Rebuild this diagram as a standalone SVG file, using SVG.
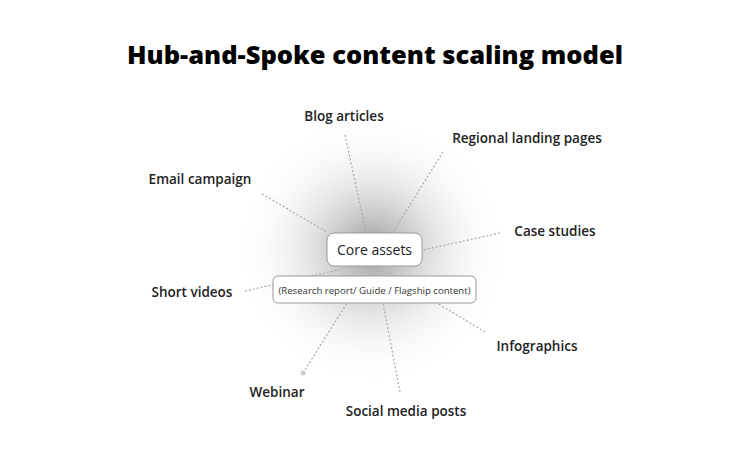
<svg xmlns="http://www.w3.org/2000/svg" width="750" height="469" viewBox="0 0 750 469">
<style>
.t{font-family:"Open Sans","Liberation Sans",sans-serif;font-weight:600;font-size:13.5px;fill:#222}
.c{stroke:#aaa;stroke-width:1.2;stroke-dasharray:2 2;fill:none}
</style>
<defs><radialGradient id="g" cx="0.5" cy="0.5" r="0.5">
<stop offset="0" stop-color="#888" stop-opacity="0.85"/><stop offset="0.5" stop-color="#bbb" stop-opacity="0.35"/><stop offset="1" stop-color="#fff" stop-opacity="0"/></radialGradient></defs>
<rect width="750" height="469" fill="#fff"/>
<text x="375" y="64" text-anchor="middle" style="font-family:'Open Sans','Liberation Sans',sans-serif;font-weight:800;font-size:25.5px;fill:#000">Hub-and-Spoke content scaling model</text>
<ellipse cx="372" cy="250" rx="135" ry="135" fill="url(#g)"/>
<g id="connectors">
<path class="c" d="M345 135L366 232"/>
<path class="c" d="M443 152L393 232"/>
<path class="c" d="M262 194L327 232"/>
<path class="c" d="M500 233L423 250"/>
<path class="c" d="M245 291L355 266"/>
<path class="c" d="M485 332L437 303"/>
<path class="c" d="M303 373L347 303"/>
<path class="c" d="M400 392L383 303"/>
<path class="c" d="M370 266L395 276M380 266L375 276"/>
<circle cx="303" cy="373" r="2.5" fill="#ccc"/>
</g>
<g id="core"><rect x="327" y="233" width="95" height="33" rx="7" fill="#fff" stroke="#999"/>
<text x="374.5" y="255" text-anchor="middle" style="font-family:'Open Sans','Liberation Sans',sans-serif;font-size:14px;fill:#222">Core assets</text></g>
<g id="sub"><rect x="273" y="276" width="203" height="27" rx="5" fill="#fff" stroke="#999"/>
<text x="374.5" y="293.5" text-anchor="middle" style="font-family:'Open Sans','Liberation Sans',sans-serif;font-size:9.6px;fill:#333">(Research report/ Guide / Flagship content)</text></g>
<g id="blog"><text class="t" x="344" y="121" text-anchor="middle">Blog articles</text></g>
<g id="regional"><text class="t" x="527" y="143" text-anchor="middle">Regional landing pages</text></g>
<g id="email"><text class="t" x="200" y="184" text-anchor="middle">Email campaign</text></g>
<g id="case"><text class="t" x="555" y="236" text-anchor="middle">Case studies</text></g>
<g id="short"><text class="t" x="192" y="297" text-anchor="middle">Short videos</text></g>
<g id="info"><text class="t" x="537" y="351" text-anchor="middle">Infographics</text></g>
<g id="webinar"><text class="t" x="277" y="397" text-anchor="middle">Webinar</text></g>
<g id="social"><text class="t" x="406" y="416" text-anchor="middle">Social media posts</text></g>
</svg>
